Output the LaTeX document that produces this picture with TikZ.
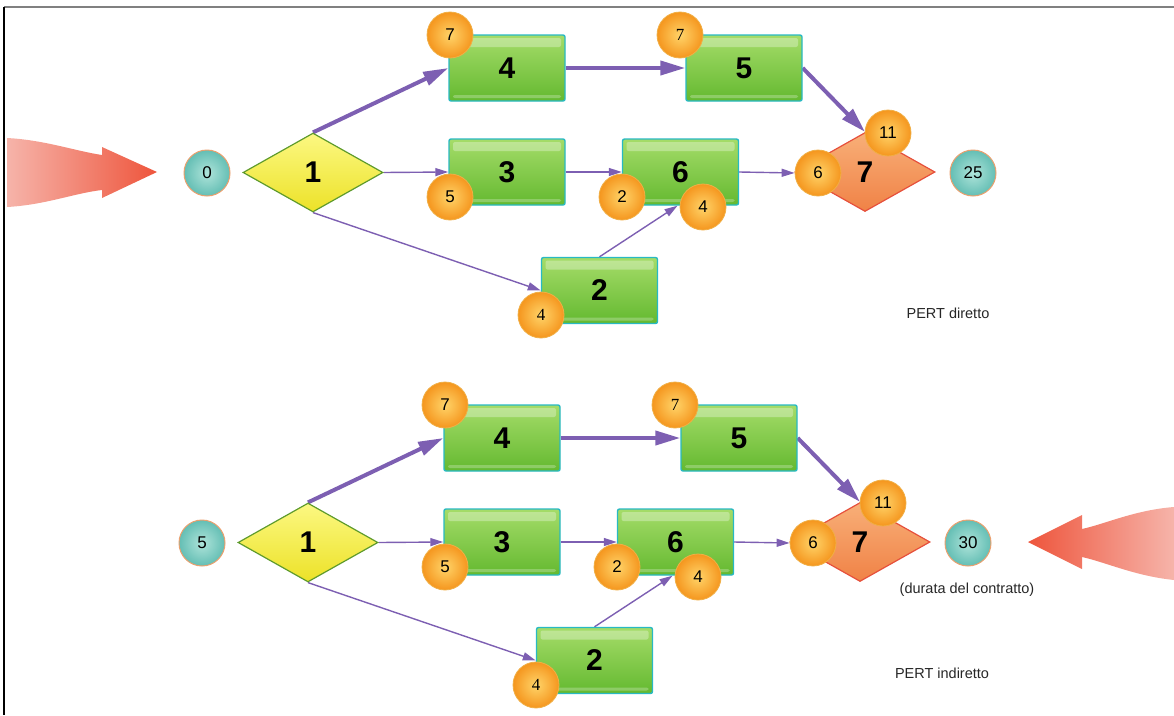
\documentclass[tikz,border=0pt]{standalone}
\usepackage{fontspec}
\setmainfont{Liberation Sans}
\newfontfamily\timesnum{Liberation Serif}
\usetikzlibrary{shapes.geometric,arrows.meta,backgrounds}

\definecolor{pertline}{RGB}{125,95,178}
\definecolor{boxtop}{RGB}{165,220,105}
\definecolor{boxbot}{RGB}{100,185,48}
\definecolor{boxedge}{RGB}{40,185,195}
\definecolor{ballin}{RGB}{255,212,105}
\definecolor{ballout}{RGB}{245,150,30}
\definecolor{balledge}{RGB}{240,175,70}
\definecolor{eventin}{RGB}{175,228,218}
\definecolor{eventout}{RGB}{100,190,180}
\definecolor{eventedge}{RGB}{235,160,110}
\definecolor{starttop}{RGB}{252,248,130}
\definecolor{startbot}{RGB}{236,226,40}
\definecolor{startedge}{RGB}{95,155,45}
\definecolor{endtop}{RGB}{248,175,120}
\definecolor{endbot}{RGB}{240,130,70}
\definecolor{endedge}{RGB}{230,80,60}
\definecolor{arrowdark}{RGB}{238,85,60}
\definecolor{arrowlight}{RGB}{246,180,170}

\tikzset{
  task/.style={rectangle, rounded corners=2pt, draw=boxedge, line width=1.4pt,
    top color=boxtop, bottom color=boxbot, minimum width=116pt, minimum height=66pt,
    font=\fontsize{30}{30}\selectfont\bfseries,
    path picture={\fill[white, opacity=0.3]
      ([xshift=4pt,yshift=-3pt]path picture bounding box.north west) rectangle
      ([xshift=-4pt,yshift=-12pt]path picture bounding box.north east);
      \fill[white, opacity=0.25]
      ([xshift=4pt,yshift=3pt]path picture bounding box.south west) rectangle
      ([xshift=-4pt,yshift=6pt]path picture bounding box.south east);}},
  startstone/.style={diamond, inner sep=0pt, minimum width=140pt, minimum height=79pt,
    draw=startedge, line width=1.2pt, top color=starttop, bottom color=startbot,
    font=\fontsize{30}{30}\selectfont\bfseries},
  endstone/.style={diamond, inner sep=0pt, minimum width=140pt, minimum height=79pt,
    draw=endedge, line width=1.2pt, top color=endtop, bottom color=endbot,
    font=\fontsize{30}{30}\selectfont\bfseries},
  ball/.style={circle, inner sep=0pt, minimum size=46pt, draw=balledge, line width=0.8pt,
    inner color=ballin, outer color=ballout, font=\fontsize{17}{17}\selectfont},
  event/.style={circle, inner sep=0pt, minimum size=46pt, draw=eventedge, line width=1pt,
    inner color=eventin, outer color=eventout, font=\fontsize{17}{17}\selectfont},
  pertthick/.style={draw=pertline, line width=4pt, -{Triangle[length=25pt,width=14pt]}},
  pertthin/.style={draw=pertline, line width=1.4pt, -{Triangle[length=13pt,width=8pt]}},
  caption/.style={font=\fontsize{14.5}{14.5}\selectfont, text=black!85}
}

\begin{document}
\begin{tikzpicture}[x=1pt,y=-1pt]
  \useasboundingbox (0,0) rectangle (1174,715);
  % frame
  \draw[gray, line width=2pt] (4,7) -- (1174,7);
  \draw[black, line width=1.2pt] (4,7) -- (4,715);

  % the two networks
  \foreach \n/\dx/\dy/\first/\last in {t/0/0/0/25, b/-5/370/5/30}{
    \begin{scope}[shift={(\dx,\dy)}]
      \node[startstone] (\n1) at (313,172.5) {1};
      \node[endstone]   (\n7) at (865,172)   {7};
      \node[task] (\n4) at (507,68)      {4};
      \node[task] (\n5) at (744,68)      {5};
      \node[task] (\n3) at (507,172)     {3};
      \node[task] (\n6) at (680.5,172)   {6};
      \node[task] (\n2) at (599.5,290.5) {2};
      \node[event] (\n-start) at (207,173) {\first};
      \node[event] (\n-end)   at (973,173) {\last};
      \node[ball] (\n4c) at (450,35)  {7};
      \node[ball, font=\fontsize{17}{17}\selectfont\timesnum] (\n5c) at (680,35) {7};
      \node[ball] (\n3c) at (450,197) {5};
      \node[ball] (\n6c) at (622,197) {2};
      \node[ball] (\n6d) at (703,207) {4};
      \node[ball, font=\fontsize{17}{17}\selectfont\timesnum] (\n2c) at (541,315) {4};
      \node[ball] (\n7c) at (818,173) {6};
      \node[ball] (\n7d) at (888,133) {11};
      \begin{scope}[on background layer]
        \draw[pertthick] (\n1.north) -- (\n4.west);
        \draw[pertthick] (\n4.east) -- (\n5.west);
        \draw[pertthick] (\n5.east) -- (\n7.north);
        \draw[pertthin] (\n1.east) -- (\n3.west);
        \draw[pertthin] (\n3.east) -- (\n6.west);
        \draw[pertthin] (\n6.east) -- (\n7c.west);
        \draw[pertthin] (\n1.south) -- (\n2.west);
        \draw[pertthin] (\n2.north) -- ([xshift=-3pt]\n6.south);
      \end{scope}
    \end{scope}
  }

  % big arrows
  \path[left color=arrowlight, right color=arrowdark]
    (7,138) .. controls (45,140) and (75,151) .. (102,155) -- (102,147) -- (157,172)
    -- (102,198) -- (102,190) .. controls (75,193) and (45,205) .. (7,207) -- cycle;
  \path[left color=arrowdark, right color=arrowlight]
    (1174,507) .. controls (1135,510) and (1105,524) .. (1082,529) -- (1082,515) -- (1028,542)
    -- (1082,569) -- (1082,557) .. controls (1105,562) and (1135,576) .. (1174,580) -- cycle;

  % captions
  \node[caption] (direct)   at (948,313) {PERT diretto};
  \node[caption] (contract) at (967,590) {(durata del contratto)};
  \node[caption] (indirect) at (942,673) {PERT indiretto};
\end{tikzpicture}
\end{document}
